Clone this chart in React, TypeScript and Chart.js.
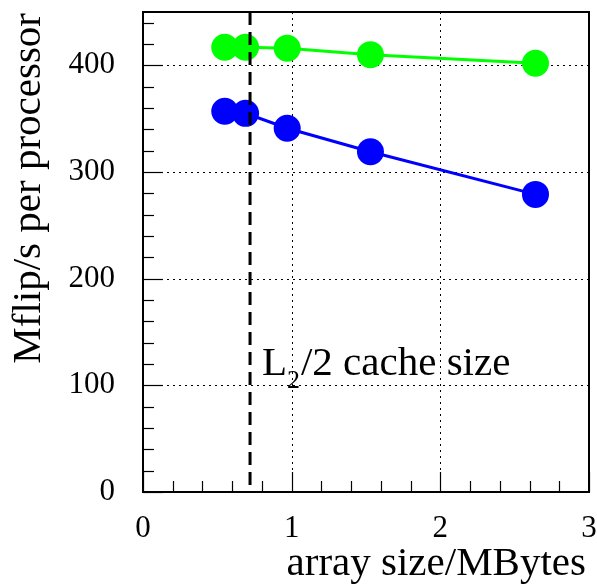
import React, { useEffect, useRef } from "react";
import { Chart, registerables } from "chart.js";

Chart.register(...registerables);

const greenX = [0.55, 0.69, 0.97, 1.53, 2.64];
const greenY = [417, 417, 416, 410, 402];
const blueX = [0.55, 0.69, 0.97, 1.53, 2.64];
const blueY = [357, 355, 341, 319, 279];
const cacheLineX = 0.72;
const xTitle = "array size/MBytes";
const yTitle = "Mflip/s per processor";
const annotationMain = "L";
const annotationSub = "2";
const annotationRest = "/2 cache size";
const annotationPos = { x: 0.8, y: 110 };

const FONT = "'Liberation Serif', 'Times New Roman', serif";

const framePlugin = {
  id: "framePlugin",
  beforeDatasetsDraw(chart: any) {
    const { ctx, chartArea: a, scales } = chart;
    const xs = scales.x;
    const ys = scales.y;
    ctx.save();
    // dotted grid
    ctx.strokeStyle = "#000";
    ctx.lineWidth = 1;
    ctx.setLineDash([2, 4]);
    for (const v of [1, 2]) {
      const px = Math.round(xs.getPixelForValue(v)) + 0.5;
      ctx.beginPath();
      ctx.moveTo(px, a.top);
      ctx.lineTo(px, a.bottom);
      ctx.stroke();
    }
    for (const v of [100, 200, 300, 400]) {
      const py = Math.round(ys.getPixelForValue(v)) + 0.5;
      ctx.beginPath();
      ctx.moveTo(a.left, py);
      ctx.lineTo(a.right, py);
      ctx.stroke();
    }
    ctx.setLineDash([]);
    // ticks
    ctx.lineWidth = 1.2;
    for (let i = 0; i <= 15; i++) {
      const v = i * 0.2;
      const px = Math.round(xs.getPixelForValue(v)) + 0.5;
      const len = i % 5 === 0 ? 20 : 11;
      ctx.beginPath();
      ctx.moveTo(px, a.bottom);
      ctx.lineTo(px, a.bottom - len);
      ctx.stroke();
    }
    for (let i = 0; i <= 22; i++) {
      const v = i * 20;
      const py = Math.round(ys.getPixelForValue(v)) + 0.5;
      const len = i % 5 === 0 ? 20 : 11;
      ctx.beginPath();
      ctx.moveTo(a.left, py);
      ctx.lineTo(a.left + len, py);
      ctx.stroke();
    }
    // frame
    ctx.lineWidth = 2;
    ctx.strokeRect(a.left, a.top, a.right - a.left, a.bottom - a.top);
    ctx.restore();
  },
  afterDatasetsDraw(chart: any) {
    const { ctx, chartArea: a, scales } = chart;
    const xs = scales.x;
    const ys = scales.y;
    ctx.save();
    // dashed cache line
    const cx = xs.getPixelForValue(cacheLineX);
    ctx.strokeStyle = "#000";
    ctx.lineWidth = 3;
    ctx.setLineDash([13, 7]);
    ctx.beginPath();
    ctx.moveTo(cx, a.top);
    ctx.lineTo(cx, a.bottom);
    ctx.stroke();
    ctx.setLineDash([]);
    // annotation
    ctx.fillStyle = "#000";
    ctx.textBaseline = "alphabetic";
    ctx.textAlign = "left";
    let tx = xs.getPixelForValue(annotationPos.x);
    const ty = ys.getPixelForValue(annotationPos.y);
    ctx.font = `41px ${FONT}`;
    ctx.fillText(annotationMain, tx, ty);
    tx += ctx.measureText(annotationMain).width;
    ctx.font = `26px ${FONT}`;
    ctx.fillText(annotationSub, tx, ty + 13);
    tx += ctx.measureText(annotationSub).width + 1;
    ctx.font = `41px ${FONT}`;
    ctx.fillText(annotationRest, tx, ty);
    // x title
    ctx.font = `41px ${FONT}`;
    ctx.textAlign = "right";
    ctx.fillText(xTitle, a.right - 3, 575);
    // y title
    ctx.translate(40, a.top + 1);
    ctx.rotate(-Math.PI / 2);
    ctx.textAlign = "right";
    ctx.fillText(yTitle, 0, 0);
    ctx.restore();
  },
};

export default function App() {
  const ref = useRef<HTMLCanvasElement | null>(null);
  useEffect(() => {
    document.body.style.margin = "0";
    const canvas = ref.current;
    if (!canvas) return;
    const chart = new Chart(canvas, {
      type: "scatter",
      data: {
        datasets: [
          {
            label: "green",
            data: greenX.map((x, i) => ({ x, y: greenY[i] })),
            showLine: true,
            borderColor: "#00ff00",
            backgroundColor: "#00ff00",
            borderWidth: 3,
            pointRadius: 13.5,
            pointBorderWidth: 0,
            pointHoverRadius: 13.5,
          },
          {
            label: "blue",
            data: blueX.map((x, i) => ({ x, y: blueY[i] })),
            showLine: true,
            borderColor: "#0000ff",
            backgroundColor: "#0000ff",
            borderWidth: 3,
            pointRadius: 13.5,
            pointBorderWidth: 0,
            pointHoverRadius: 13.5,
          },
        ],
      },
      options: {
        animation: false,
        responsive: false,
        events: [],
        layout: { autoPadding: false, padding: { left: 0, top: 12, right: 8, bottom: 0 } },
        plugins: { legend: { display: false }, tooltip: { enabled: false } },
        scales: {
          x: {
            type: "linear",
            min: 0,
            max: 3,
            grid: { display: false, drawTicks: false },
            border: { display: false },
            ticks: {
              stepSize: 1,
              padding: 18,
              color: "#000",
              font: { family: FONT, size: 31 },
              maxRotation: 0,
            },
            afterFit: (s: any) => {
              s.height = 94;
              s.paddingLeft = 0;
              s.paddingRight = 0;
              s.paddingTop = 0;
              s.paddingBottom = 0;
            },
          },
          y: {
            type: "linear",
            min: 0,
            max: 450,
            grid: { display: false, drawTicks: false },
            border: { display: false },
            ticks: {
              stepSize: 100,
              padding: 28,
              color: "#000",
              font: { family: FONT, size: 31 },
            },
            afterBuildTicks: (s: any) => {
              s.ticks = s.ticks.filter((t: any) => t.value % 100 === 0);
            },
            afterFit: (s: any) => {
              s.width = 143;
              s.paddingLeft = 0;
              s.paddingRight = 0;
              s.paddingTop = 0;
              s.paddingBottom = 0;
            },
          },
        },
      },
      plugins: [framePlugin],
    });
    return () => chart.destroy();
  }, []);
  return (
    <div style={{ width: 597, height: 586 }}>
      <canvas ref={ref} width={597} height={586} style={{ display: "block" }} />
    </div>
  );
}
